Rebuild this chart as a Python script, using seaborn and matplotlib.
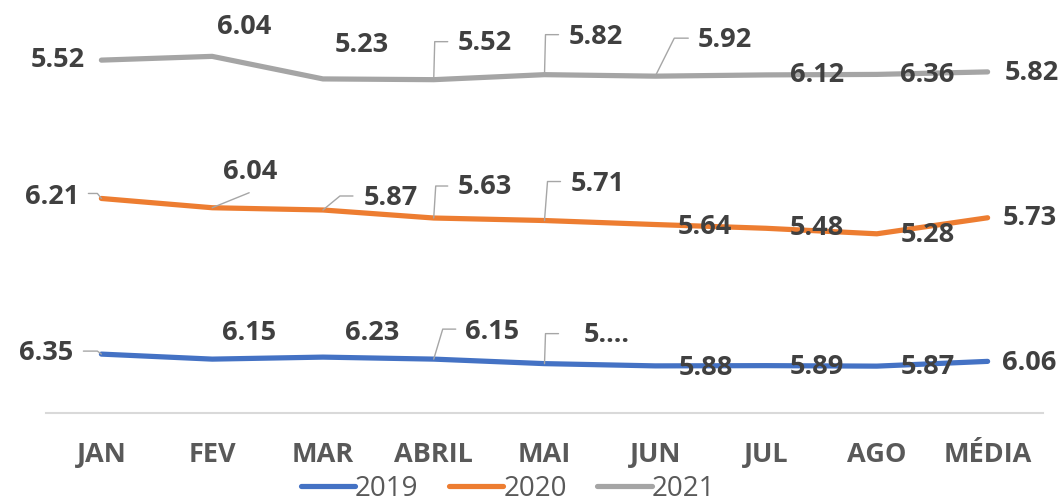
import numpy as np
import pandas as pd
import matplotlib
matplotlib.use("Agg")
import matplotlib.pyplot as plt
import seaborn as sns
from matplotlib.lines import Line2D

# dados (valores dos rótulos)
meses = ["JAN", "FEV", "MAR", "ABRIL", "MAI", "JUN", "JUL", "AGO", "MÉDIA"]
anos = ["2019", "2020", "2021"]
v2019 = [6.35, 6.15, 6.23, 6.15, 5.97, 5.88, 5.89, 5.87, 6.06]
v2020 = [6.21, 6.04, 5.87, 5.63, 5.71, 5.64, 5.48, 5.28, 5.73]
v2021 = [5.52, 6.04, 5.23, 5.52, 5.82, 5.92, 6.12, 6.36, 5.82]
rotulos2019 = ["6.35", "6.15", "6.23", "6.15", "5....", "5.88", "5.89", "5.87", "6.06"]
rotulos2020 = [f"{v:.2f}" for v in v2020]
rotulos2021 = [f"{v:.2f}" for v in v2021]

cores = ["#4472C4", "#ED7D31", "#A5A5A5"]

# posição dos rótulos (pixels em relação ao ponto, y para baixo)
off2019 = [(-55, -1), (37, -26), (49, -24), (58, -27), (62, -29), (51, 2), (51, 1), (51, 1), (42, 2)]
off2020 = [(-49, -1), (38, -36), (68, -12), (51, -31), (53, -37), (50, 2), (51, 0), (51, 1), (42, 0)]
off2021 = [(-44, 0), (32, -29), (39, -34), (51, -37), (51, -38), (70, -36), (51, 0), (50, 1), (44, 1)]

# linhas de chamada
leaders = {
    ("2019", 0): [(0, 0), (-4, -3), (-18, -3)],
    ("2019", 3): [(0, 0), (9, -30), (22, -30)],
    ("2019", 4): [(0, 0), (1, -30), (14, -30)],
    ("2020", 0): [(0, 0), (-4, -5), (-13, -5)],
    ("2020", 1): [(0, 0), (37, -15)],
    ("2020", 2): [(0, 0), (17, -14), (30, -14)],
    ("2020", 3): [(0, 0), (2, -32), (14, -32)],
    ("2020", 4): [(0, 0), (3, -39), (16, -39)],
    ("2021", 3): [(0, 0), (1, -38), (14, -38)],
    ("2021", 4): [(0, 0), (1, -40), (14, -40)],
    ("2021", 5): [(0, 0), (19, -38), (33, -38)],
}

# gráfico de linhas empilhadas
vals = np.array([v2019, v2020, v2021])
acum = vals.cumsum(axis=0)
pos = np.arange(len(meses))

df = pd.DataFrame({
    "pos": np.tile(pos, 3),
    "valor": acum.flatten(),
    "ano": np.repeat(anos, len(meses)),
})

sns.set_style("white")
plt.rcParams["font.family"] = ["Open Sans", "DejaVu Sans"]

fig = plt.figure(figsize=(10.63, 5.04), dpi=100)
ax = fig.add_axes([46 / 1063, (504 - 413) / 504, (1043 - 46) / 1063, (413 - 12) / 504])

sns.lineplot(data=df, x="pos", y="valor", hue="ano", palette=cores, linewidth=3.75,
             sort=False, estimator=None, legend=False, ax=ax)
for ln in ax.lines:
    ln.set_solid_capstyle("round")
    ln.set_solid_joinstyle("round")

ax.set_xlim(-0.5, len(meses) - 0.5)
ax.set_ylim(4, 20)
ax.set_xticks(pos)
ax.set_xticklabels(meses, fontsize=19.5, fontweight="bold", color="#595959")
ax.set_yticks([])
ax.tick_params(axis="x", length=0, pad=21)
ax.set_xlabel("")
ax.set_ylabel("")
for s in ["top", "right", "left"]:
    ax.spines[s].set_visible(False)
ax.spines["bottom"].set_color("#D9D9D9")
ax.spines["bottom"].set_linewidth(1.5)

fig.canvas.draw()

rotulos = [rotulos2019, rotulos2020, rotulos2021]
offs = [off2019, off2020, off2021]
for k, ano in enumerate(anos):
    for i in range(len(meses)):
        dx, dy = offs[k][i]
        ax.annotate(rotulos[k][i], xy=(pos[i], acum[k, i]), xytext=(dx, -dy),
                    textcoords="offset pixels", ha="center", va="center",
                    fontsize=19.5, fontweight="bold", color="#404040",
                    annotation_clip=False)
        if (ano, i) in leaders:
            px, py = ax.transData.transform((pos[i], acum[k, i]))
            xs = [px + a for a, b in leaders[(ano, i)]]
            ys = [py - b for a, b in leaders[(ano, i)]]
            fig.add_artist(Line2D(xs, ys, transform=None, color="#A6A6A6", linewidth=1.0))

handles = [Line2D([0], [0], color=c, linewidth=3.75, solid_capstyle="round") for c in cores]
leg = fig.legend(handles, anos, loc="center", bbox_to_anchor=(508 / 1063, 15 / 504),
                 ncol=3, frameon=False, handlelength=1.95, handletextpad=0.0,
                 columnspacing=1.1, borderpad=0.2, prop={"size": 20})
for t in leg.get_texts():
    t.set_color("#595959")

plt.savefig("out.png", dpi=100)
